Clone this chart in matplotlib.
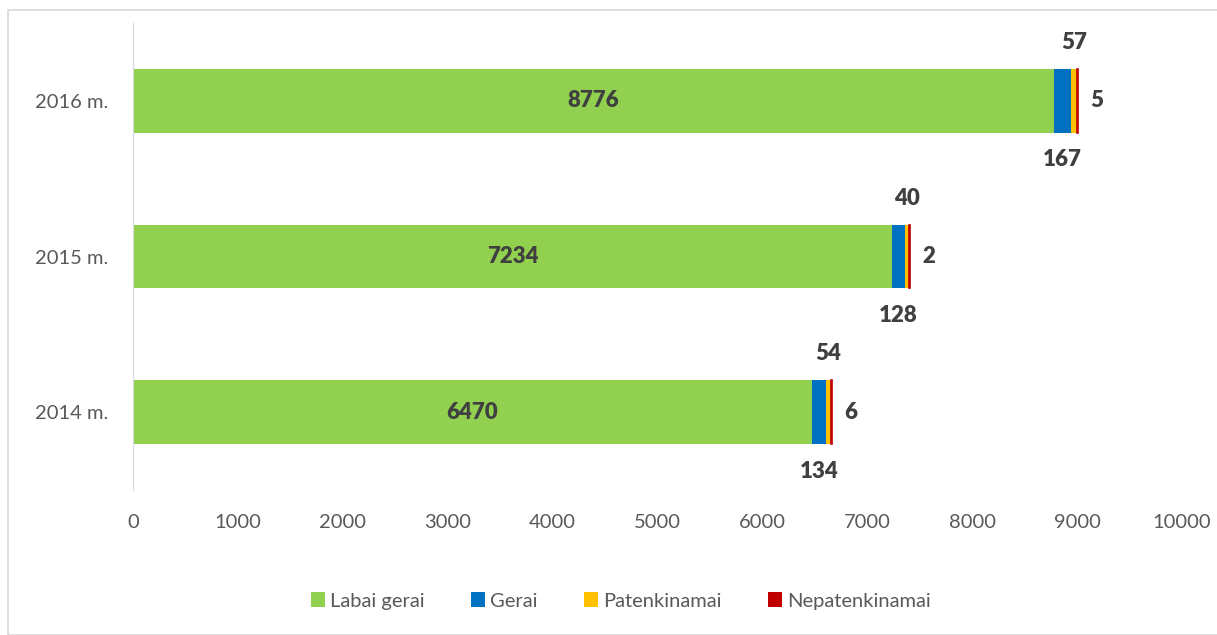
import matplotlib.pyplot as plt
from matplotlib.patches import Rectangle, Patch

years = ['2014 m.', '2015 m.', '2016 m.']
labai_gerai = [6470, 7234, 8776]
gerai = [134, 128, 167]
patenkinamai = [54, 40, 57]
nepatenkinamai = [6, 2, 5]

series = ['Labai gerai', 'Gerai', 'Patenkinamai', 'Nepatenkinamai']
colors = ['#92D050', '#0070C0', '#FFC000', '#C00000']

plt.rcParams['font.family'] = ['Lato', 'DejaVu Sans']

fig = plt.figure(figsize=(12.17, 6.35), dpi=100)
ax = fig.add_axes([133 / 1217, 1 - 490 / 635, (1182 - 133) / 1217, (490 - 23) / 635])

# outer frame
fig.patches.append(Rectangle((8 / 1217, 0), 1.0, 1 - 10 / 635, transform=fig.transFigure,
                             fill=False, edgecolor='#D9D9D9', linewidth=1.2))

ypos = list(range(len(years)))
h = 0.41
left = [0, 0, 0]
data = [labai_gerai, gerai, patenkinamai, nepatenkinamai]
for vals, col, name in zip(data, colors, series):
    # thin edge so very small segments stay visible
    lw = 1.2 if name == 'Nepatenkinamai' else 0
    ax.barh(ypos, vals, height=h, left=left, color=col, edgecolor=col, linewidth=lw, label=name)
    left = [a + b for a, b in zip(left, vals)]

lab_kw = dict(fontsize=16, fontweight='heavy', color='#404040', va='center')
for i in ypos:
    g = labai_gerai[i]
    ax.text(g / 2, i, str(g), ha='center', **lab_kw)
    ax.text(g + gerai[i] / 2, i - 0.38, str(gerai[i]), ha='center', **lab_kw)
    p0 = g + gerai[i]
    ax.text(p0 + patenkinamai[i] / 2, i + 0.375, str(patenkinamai[i]), ha='center', **lab_kw)
    end = p0 + patenkinamai[i] + nepatenkinamai[i]
    ax.annotate(str(nepatenkinamai[i]), (end, i), xytext=(9, 0), textcoords='offset points',
                ha='left', **lab_kw)

ax.set_xlim(0, 10000)
ax.set_ylim(-0.5, 2.5)
ax.set_xticks(range(0, 10001, 1000))
ax.set_yticks(ypos)
ax.set_yticklabels(years)
ax.tick_params(axis='both', length=0, labelsize=14.5, labelcolor='#595959')
ax.tick_params(axis='x', pad=17)
ax.tick_params(axis='y', pad=17.5)
for s in ['top', 'right', 'bottom']:
    ax.spines[s].set_visible(False)
ax.spines['left'].set_color('#D9D9D9')

handles = [Patch(facecolor=c, label=n) for c, n in zip(colors, series)]
fig.legend(handles=handles, loc='center', bbox_to_anchor=(621 / 1217, 1 - 601 / 635), ncol=4,
           frameon=False, fontsize=14.5, labelcolor='#595959', handlelength=0.7,
           handleheight=0.7, handletextpad=0.25, columnspacing=2.3)

fig.savefig('out.png', dpi=100)
